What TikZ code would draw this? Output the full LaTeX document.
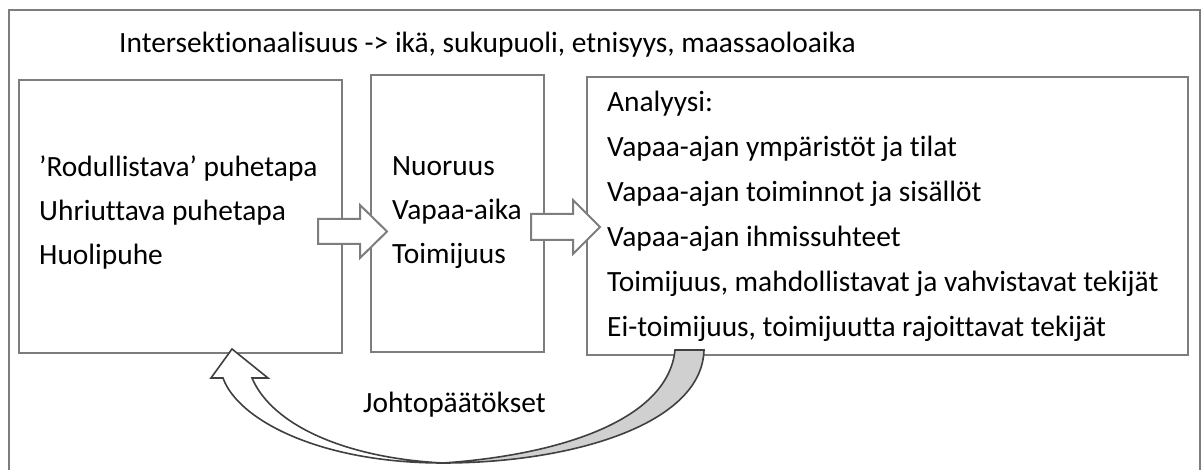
\documentclass[tikz,border=0pt]{standalone}
\usepackage{fontspec}
\setmainfont{Carlito}[Ligatures={NoCommon}]
\definecolor{framegray}{RGB}{125,125,125}
\definecolor{darkline}{RGB}{64,64,64}
\definecolor{shade}{RGB}{208,208,208}
\begin{document}
\begin{tikzpicture}[x=1pt,y=-1pt,
  box/.style={draw=framegray, line width=2pt, inner sep=0pt, anchor=north west, fill=white},
  txt/.style={anchor=base west, inner sep=0pt, font=\fontsize{29.4}{35}\selectfont},
  blockarrow/.style={draw=framegray, line width=2pt, fill=white, line join=miter},
  curvedarrow/.style={draw=darkline, line width=1.6pt, line join=miter}]
\useasboundingbox (0,0) rectangle (1202,470);
% outer frame
\node[box, minimum width=1191pt, minimum height=470pt] (frame) at (8,9.5) {};
% boxes
\node[box, minimum width=323pt, minimum height=273pt] (left) at (18,79) {};
\node[box, minimum width=173pt, minimum height=277pt] (mid) at (370,74) {};
\node[box, minimum width=601pt, minimum height=278pt] (right) at (586,76) {};
% texts
\node[txt] (top) at (119,53) {Intersektionaalisuus -> ikä, sukupuoli, etnisyys, maassaoloaika};
\node[txt] (l1) at (39,177) {’Rodullistava’ puhetapa};
\node[txt] (l2) at (39,221) {Uhriuttava puhetapa};
\node[txt] (l3) at (39,265) {Huolipuhe};
\node[txt] (m1) at (392,176) {Nuoruus};
\node[txt] (m2) at (392,220) {Vapaa-aika};
\node[txt] (m3) at (392,264) {Toimijuus};
\node[txt] (r1) at (607,112) {Analyysi:};
\node[txt] (r2) at (607,157) {Vapaa-ajan ympäristöt ja tilat};
\node[txt] (r3) at (607,202) {Vapaa-ajan toiminnot ja sisällöt};
\node[txt] (r4) at (607,247) {Vapaa-ajan ihmissuhteet};
\node[txt] (r5) at (607,292) {Toimijuus, mahdollistavat ja vahvistavat tekijät};
\node[txt] (r6) at (607,337) {Ei-toimijuus, toimijuutta rajoittavat tekijät};
\node[txt] (jp) at (363,412) {Johtopäätökset};
% block arrows
\draw[blockarrow] (318,219) -- (360,219) -- (360,205) -- (387,231.5) -- (360,258) -- (360,244) -- (318,244) -- cycle;
\draw[blockarrow] (531,214) -- (573,214) -- (573,200) -- (600,227) -- (573,254) -- (573,240) -- (531,240) -- cycle;
% curved arrow: shaded back part
\coordinate (B) at (443,463);
\draw[curvedarrow, fill=shade] (675,350) -- (704,350) .. controls (702,425) and (570,463) .. (B)
   .. controls (560,455) and (668,420) .. (675,350) -- cycle;
% curved arrow: front part with head
\draw[curvedarrow, fill=white] (B) .. controls (320,463) and (238,420) .. (223,378)
   -- (211,378) -- (232,349) -- (268,378) -- (252,378)
   .. controls (272,425) and (345,458) .. (B) -- cycle;
\end{tikzpicture}
\end{document}
